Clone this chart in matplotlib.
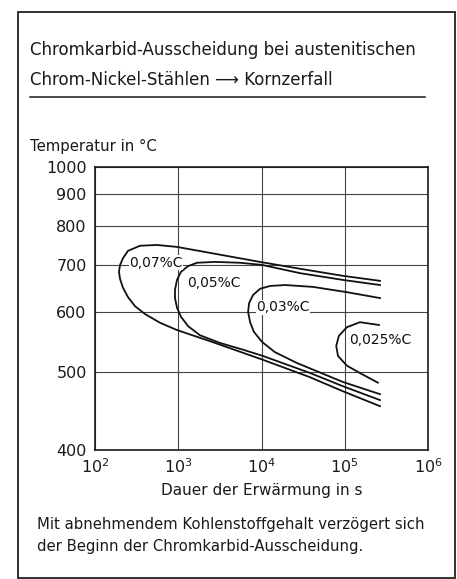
import matplotlib
matplotlib.use("Agg")
import matplotlib.pyplot as plt
import numpy as np
from matplotlib.patches import Rectangle
from matplotlib.lines import Line2D
from matplotlib.ticker import NullLocator, FixedLocator


# Heating time (s) and temperature (deg C)
# each curve: upper branch from right end to nose, then lower branch
t_007 = [2.65e5, 9.5e4, 2.9e4, 9.6e3, 2.4e3, 966, 555, 347, 249, 217, 200, 194,
         200, 217, 249, 302, 399, 604, 966, 2.4e3, 6.0e3, 1.04e4, 3.8e4, 9.5e4, 2.65e5]
T_007 = [664, 675, 691, 707, 729, 744, 749, 747, 734, 716, 700, 684,
         668, 649, 630, 612, 597, 581, 568, 549, 530, 519, 493, 473, 453]

t_005 = [2.65e5, 9.5e4, 2.9e4, 1.01e4, 5.5e3, 2.76e3, 1680, 1310, 1079, 966, 914,
         914, 966, 1079, 1310, 1824, 3175, 6.0e3, 1.04e4, 3.83e4, 9.5e4, 2.65e5]
T_005 = [655, 666, 681, 700, 705, 707, 705, 697, 684, 666, 645,
         628, 609, 592, 575, 559, 546, 535, 525, 499, 480, 461]

t_003 = [2.65e5, 1.06e5, 4.16e4, 1.92e4, 1.27e4, 9.6e3, 7.9e3, 7.1e3, 6.9e3,
         7.3e3, 8.1e3, 1.01e4, 1.45e4, 2.67e4, 9.5e4, 2.65e5]
T_003 = [628, 640, 651, 655, 653, 647, 634, 618, 601,
         582, 565, 548, 531, 514, 486, 469]

t_0025 = [2.58e5, 1.52e5, 1.06e5, 8.5e4, 7.9e4, 8.3e4, 1.06e5, 1.52e5, 2.5e5]
T_0025 = [577, 582, 573, 558, 541, 525, 510, 499, 485]

curve_labels = ['0,07%C', '0,05%C', '0,03%C', '0,025%C']
label_t = [541, 2685, 1.81e4, 2.65e5]
label_T = [705, 659, 610, 551]

x_ticks = [1e2, 1e3, 1e4, 1e5, 1e6]
y_ticks = [400, 500, 600, 700, 800, 900, 1000]

W, H = 457, 579
fig = plt.figure(figsize=(W / 100, H / 100), dpi=100)
plt.rcParams['font.family'] = ['DejaVu Sans']


def px(x):
    return x / W


def py(y):
    return 1 - y / H


# outer frame and title
fig.patches.append(Rectangle((px(18), py(578)), px(455) - px(18), py(12) - py(578),
                             transform=fig.transFigure, fill=False,
                             edgecolor='#222222', linewidth=1.3))
fig.text(px(30), py(50), 'Chromkarbid-Ausscheidung bei austenitischen',
         fontsize=12, va='center', ha='left', color='#1a1a1a')
fig.text(px(30), py(80), 'Chrom-Nickel-Stählen \u27f6 Kornzerfall',
         fontsize=12, va='center', ha='left', color='#1a1a1a')
fig.lines.append(Line2D([px(30), px(425)], [py(97), py(97)],
                        transform=fig.transFigure, color='#1a1a1a', linewidth=1.1))
fig.text(px(30), py(146), 'Temperatur in °C', fontsize=10.7, va='center',
         ha='left', color='#1a1a1a')

ax = fig.add_axes([px(95), py(450), px(428) - px(95), py(167) - py(450)])


# temperature axis is linear in 1/T (Kelvin)
def fwd(T):
    return -1.0 / (np.asarray(T, dtype=float) + 273.15)


def inv(v):
    with np.errstate(divide='ignore'):
        return -1.0 / np.asarray(v, dtype=float) - 273.15


ax.set_xscale('log')
ax.set_yscale('function', functions=(fwd, inv))
ax.set_xlim(1e2, 1e6)
ax.set_ylim(400, 1000)
ax.xaxis.set_major_locator(FixedLocator(x_ticks))
ax.xaxis.set_minor_locator(NullLocator())
ax.yaxis.set_major_locator(FixedLocator(y_ticks))
ax.yaxis.set_minor_locator(NullLocator())
ax.set_yticklabels([str(v) for v in y_ticks])

ax.grid(True, color='#444444', linewidth=0.8)
ax.tick_params(length=0, labelsize=11.5, colors='#1a1a1a')
ax.tick_params(axis='y', pad=6)
ax.tick_params(axis='x', pad=5)
for s in ax.spines.values():
    s.set_linewidth(1.2)
    s.set_color('#1a1a1a')

for t, T in [(t_007, T_007), (t_005, T_005), (t_003, T_003), (t_0025, T_0025)]:
    ax.plot(t, T, color='#111111', linewidth=1.3, solid_joinstyle='round')

for lab, lt, lT in zip(curve_labels, label_t, label_T):
    ax.text(lt, lT, lab, fontsize=10, ha='center', va='center', color='#111111',
            bbox=dict(facecolor='white', edgecolor='none', pad=0.5))

ax.set_xlabel('Dauer der Erwärmung in s', fontsize=11, labelpad=5, color='#1a1a1a')

fig.text(px(37), py(525), 'Mit abnehmendem Kohlenstoffgehalt verzögert sich',
         fontsize=10.7, va='center', ha='left', color='#1a1a1a')
fig.text(px(37), py(547), 'der Beginn der Chromkarbid-Ausscheidung.',
         fontsize=10.7, va='center', ha='left', color='#1a1a1a')

fig.savefig('out.png', dpi=100)
